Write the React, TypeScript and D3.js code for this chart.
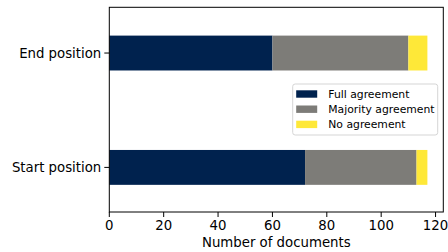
import { useEffect, useRef } from 'react';
import * as d3 from 'd3';

const categories = ['Start position', 'End position'];
const seriesNames = ['Full agreement', 'Majority agreement', 'No agreement'];
const fullAgreement = [72, 60];
const majorityAgreement = [41, 50];
const noAgreement = [4, 7];
const xTicks = [0, 20, 40, 60, 80, 100, 120];
const colors = ['#00224e', '#7d7c78', '#fee838'];

export default function App() {
  const ref = useRef<SVGSVGElement>(null);

  useEffect(() => {
    const width = 448;
    const height = 252;
    const m = { left: 109.3, right: 443.3, top: 7.3, bottom: 212 };
    const font = 'DejaVu Sans, sans-serif';

    const svg = d3.select(ref.current).attr('width', width).attr('height', height);
    svg.selectAll('*').remove();

    const series = [fullAgreement, majorityAgreement, noAgreement];
    const totals = categories.map((_, i) => d3.sum(series, s => s[i]));

    const x = d3
      .scaleLinear()
      .domain([0, d3.max(totals)! * 1.05])
      .range([m.left, m.right]);
    const y = d3.scaleLinear().domain([-0.39, 1.4]).range([m.bottom, m.top]);
    const barH = 0.305;

    const g = svg.append('g');
    categories.forEach((_, i) => {
      let acc = 0;
      series.forEach((s, k) => {
        g.append('rect')
          .attr('x', x(acc))
          .attr('y', y(i + barH / 2))
          .attr('width', x(acc + s[i]) - x(acc))
          .attr('height', y(i - barH / 2) - y(i + barH / 2))
          .attr('fill', colors[k]);
        acc += s[i];
      });
    });

    // spines
    svg.append('rect')
      .attr('x', m.left)
      .attr('y', m.top)
      .attr('width', m.right - m.left)
      .attr('height', m.bottom - m.top)
      .attr('fill', 'none')
      .attr('stroke', '#000')
      .attr('stroke-width', 1);

    // x axis
    const xa = svg.append('g');
    xTicks.forEach(t => {
      xa.append('line')
        .attr('x1', x(t)).attr('x2', x(t))
        .attr('y1', m.bottom).attr('y2', m.bottom + 5)
        .attr('stroke', '#000');
      xa.append('text')
        .attr('x', x(t))
        .attr('y', m.bottom + 17.5)
        .attr('text-anchor', 'middle')
        .attr('font-family', font)
        .attr('font-size', 13.3)
        .text(t);
    });
    svg.append('text')
      .attr('x', (m.left + m.right) / 2)
      .attr('y', 246.5)
      .attr('text-anchor', 'middle')
      .attr('font-family', font)
      .attr('font-size', 13.3)
      .text('Number of documents');

    // y axis
    categories.forEach((c, i) => {
      svg.append('line')
        .attr('x1', m.left - 5).attr('x2', m.left)
        .attr('y1', y(i)).attr('y2', y(i))
        .attr('stroke', '#000');
      svg.append('text')
        .attr('x', m.left - 8)
        .attr('y', y(i))
        .attr('dy', '0.35em')
        .attr('text-anchor', 'end')
        .attr('font-family', font)
        .attr('font-size', 13.3)
        .text(c);
    });

    // legend
    const lg = svg.append('g').attr('transform', 'translate(292.7,84)');
    lg.append('rect')
      .attr('width', 145)
      .attr('height', 51)
      .attr('rx', 2.5)
      .attr('fill', 'rgba(255,255,255,0.8)')
      .attr('stroke', '#d5d5d5');
    seriesNames.forEach((name, k) => {
      const cy = 10 + k * 15.2;
      lg.append('rect')
        .attr('x', 3.5)
        .attr('y', cy - 3.7)
        .attr('width', 21)
        .attr('height', 7.4)
        .attr('fill', colors[k]);
      lg.append('text')
        .attr('x', 35.6)
        .attr('y', cy)
        .attr('dy', '0.35em')
        .attr('font-family', font)
        .attr('font-size', 10.8)
        .text(name);
    });
  }, []);

  return <svg ref={ref} style={{ position: 'absolute', left: 0, top: 0 }} />;
}
